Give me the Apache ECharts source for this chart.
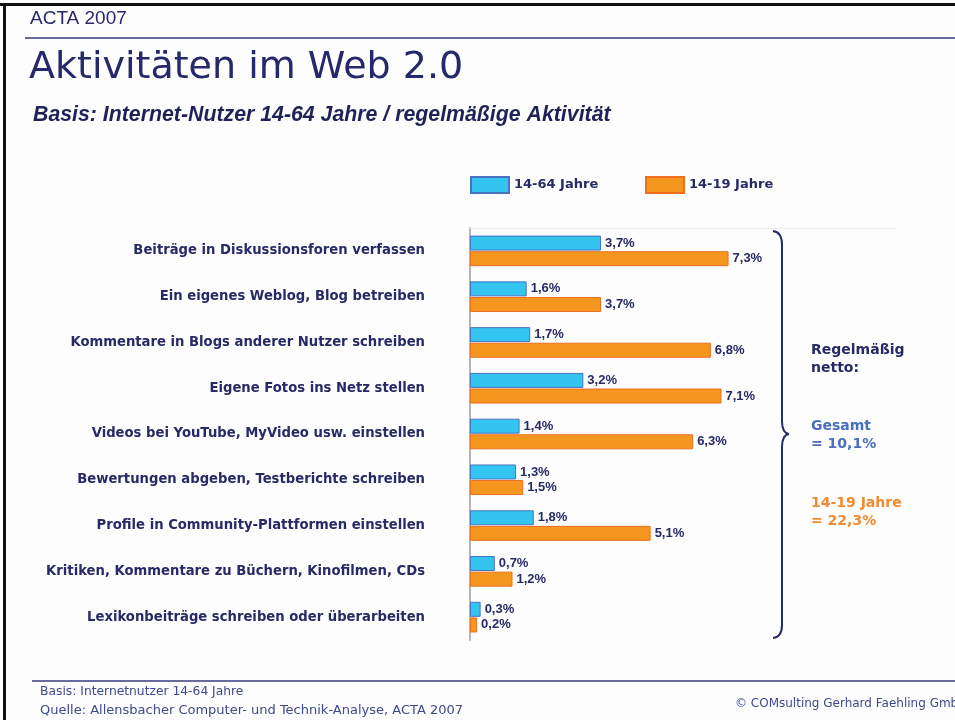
<!DOCTYPE html>
<html>
<head>
<meta charset="utf-8">
<script src="https://cdn.jsdelivr.net/npm/echarts@6/dist/echarts.min.js"></script>
<style>
  html, body { margin: 0; padding: 0; background: #fdfdfd; }
  #chart { width: 955px; height: 720px; }
</style>
</head>
<body>
<div id="chart"></div>
<script>
// Activities (y axis categories, top to bottom)
const activities = [
    "Beiträge in Diskussionsforen verfassen",
    "Ein eigenes Weblog, Blog betreiben",
    "Kommentare in Blogs anderer Nutzer schreiben",
    "Eigene Fotos ins Netz stellen",
    "Videos bei YouTube, MyVideo usw. einstellen",
    "Bewertungen abgeben, Testberichte schreiben",
    "Profile in Community-Plattformen einstellen",
    "Kritiken, Kommentare zu Büchern, Kinofilmen, CDs",
    "Lexikonbeiträge schreiben oder überarbeiten"
];

// Share of regular users in percent
const seriesNames = ["14-64 Jahre", "14-19 Jahre"];
const all1464 = [3.7, 1.6, 1.7, 3.2, 1.4, 1.3, 1.8, 0.7, 0.3];
const teen1419 = [7.3, 3.7, 6.8, 7.1, 6.3, 1.5, 5.1, 1.2, 0.2];

// Colours
const navy = "#262a66";
const blueFill = "#33c4f0";
const blueBorder = "#4a72c2";
const orangeFill = "#f5971f";
const orangeBorder = "#ec6e1e";

// Fonts (wide geometric look of the slide)
const wide = "DejaVu Sans";
const arial = "Liberation Sans";

const chart = echarts.init(document.getElementById("chart"));

// Label format: german decimal comma
function pct(p) {
    return p.value.toFixed(1).replace(".", ",") + "%";
}

const barLabel = {
    show: true,
    position: "right",
    distance: 4,
    color: navy,
    fontFamily: arial,
    fontWeight: "bold",
    fontSize: 13,
    formatter: pct
};

// Brace pieces (slide decoration)
const braceStyle = { stroke: navy, lineWidth: 2, fill: null };
const brace = [
    { type: "bezierCurve", shape: { x1: 773, y1: 231, cpx1: 782, cpy1: 232, x2: 782, y2: 245 }, style: braceStyle },
    { type: "line", shape: { x1: 782, y1: 245, x2: 782, y2: 421 }, style: braceStyle },
    { type: "bezierCurve", shape: { x1: 782, y1: 421, cpx1: 782, cpy1: 433, x2: 789, y2: 434 }, style: braceStyle },
    { type: "bezierCurve", shape: { x1: 789, y1: 434, cpx1: 782, cpy1: 435, x2: 782, y2: 447 }, style: braceStyle },
    { type: "line", shape: { x1: 782, y1: 447, x2: 782, y2: 625 }, style: braceStyle },
    { type: "bezierCurve", shape: { x1: 782, y1: 625, cpx1: 782, cpy1: 637, x2: 773, y2: 638 }, style: braceStyle }
];

const legendText = { color: navy, fontFamily: wide, fontWeight: "bold", fontSize: 13 };

const option = {
    backgroundColor: "#fdfdfd",
    animation: false,

    // LEGEND (two separate boxes)
    legend: [
        {
            data: [seriesNames[0]],
            left: 470, top: 176, padding: 0,
            icon: "rect",
            itemWidth: 38, itemHeight: 16,
            selectedMode: false,
            textStyle: legendText
        },
        {
            data: [seriesNames[1]],
            left: 645, top: 176, padding: 0,
            icon: "rect",
            itemWidth: 38, itemHeight: 16,
            selectedMode: false,
            textStyle: legendText
        }
    ],

    // GRID
    grid: { left: 470, right: 60, top: 228, bottom: 80 },

    // XAXIS (values, labels hidden like the white ones in the slide)
    xAxis: {
        type: "value",
        position: "top",
        min: 0,
        max: 12,
        interval: 5,
        axisLine: { show: true, lineStyle: { color: "#ececec", width: 1 } },
        axisTick: { show: false },
        axisLabel: { show: false },
        splitLine: { show: false }
    },

    // YAXIS
    yAxis: {
        type: "category",
        data: activities,
        inverse: true,
        axisLine: { show: true, lineStyle: { color: "#b4b4b4", width: 2 } },
        axisTick: { show: false },
        axisLabel: {
            color: navy,
            fontFamily: wide,
            fontWeight: "bold",
            fontSize: 13.2,
            margin: 45,
            padding: [3, 0, 0, 0]
        }
    },

    // SERIES
    series: [
        {
            name: seriesNames[0],
            type: "bar",
            data: all1464,
            barWidth: 15,
            barGap: "4%",
            itemStyle: { color: blueFill, borderColor: blueBorder, borderWidth: 1 },
            label: barLabel
        },
        {
            name: seriesNames[1],
            type: "bar",
            data: teen1419,
            barWidth: 15,
            itemStyle: { color: orangeFill, borderColor: orangeBorder, borderWidth: 1 },
            label: barLabel
        }
    ],

    // SLIDE DECORATION: frame, header, brace, notes, footer
    graphic: [
        { type: "rect", shape: { x: 0, y: 3, width: 955, height: 3 }, style: { fill: "#111" } },
        { type: "rect", shape: { x: 3, y: 3, width: 3, height: 717 }, style: { fill: "#111" } },
        { type: "text", x: 30, y: 9, style: { text: "ACTA 2007", fill: "#25286a", font: "19px 'Liberation Sans'" } },
        { type: "rect", shape: { x: 25, y: 37, width: 930, height: 2 }, style: { fill: "#6a6a9c" } },
        { type: "text", x: 29, y: 49, style: { text: "Aktivitäten im Web 2.0", fill: "#25286a", font: "38px 'DejaVu Sans'" } },
        { type: "text", x: 33, y: 105, style: { text: "Basis: Internet-Nutzer 14-64 Jahre / regelmäßige Aktivität", fill: "#1e2257", font: "italic bold 21.3px 'Liberation Sans'" } },

        ...brace,

        { type: "text", x: 811, y: 341, style: { text: "Regelmäßig\nnetto:", fill: navy, font: "bold 14px 'DejaVu Sans'", lineHeight: 18 } },
        { type: "text", x: 811, y: 417, style: { text: "Gesamt\n= 10,1%", fill: "#4a6dbd", font: "bold 14px 'DejaVu Sans'", lineHeight: 18 } },
        { type: "text", x: 811, y: 494, style: { text: "14-19 Jahre\n= 22,3%", fill: "#f28a2e", font: "bold 14px 'DejaVu Sans'", lineHeight: 18 } },

        // Footer
        { type: "rect", shape: { x: 32, y: 680, width: 923, height: 2 }, style: { fill: "#6a6a9c" } },
        { type: "text", x: 40, y: 686, style: { text: "Basis: Internetnutzer 14-64 Jahre", fill: "#3d4a8c", font: "12.3px 'DejaVu Sans'" } },
        { type: "text", x: 40, y: 704, style: { text: "Quelle: Allensbacher Computer- und Technik-Analyse, ACTA 2007", fill: "#3d4a8c", font: "13px 'DejaVu Sans'" } },
        { type: "text", x: 735, y: 698, style: { text: "© COMsulting Gerhard Faehling GmbH", fill: "#3d4a8c", font: "12px 'DejaVu Sans'" } }
    ]
};

chart.setOption(option);
</script>
</body>
</html>
